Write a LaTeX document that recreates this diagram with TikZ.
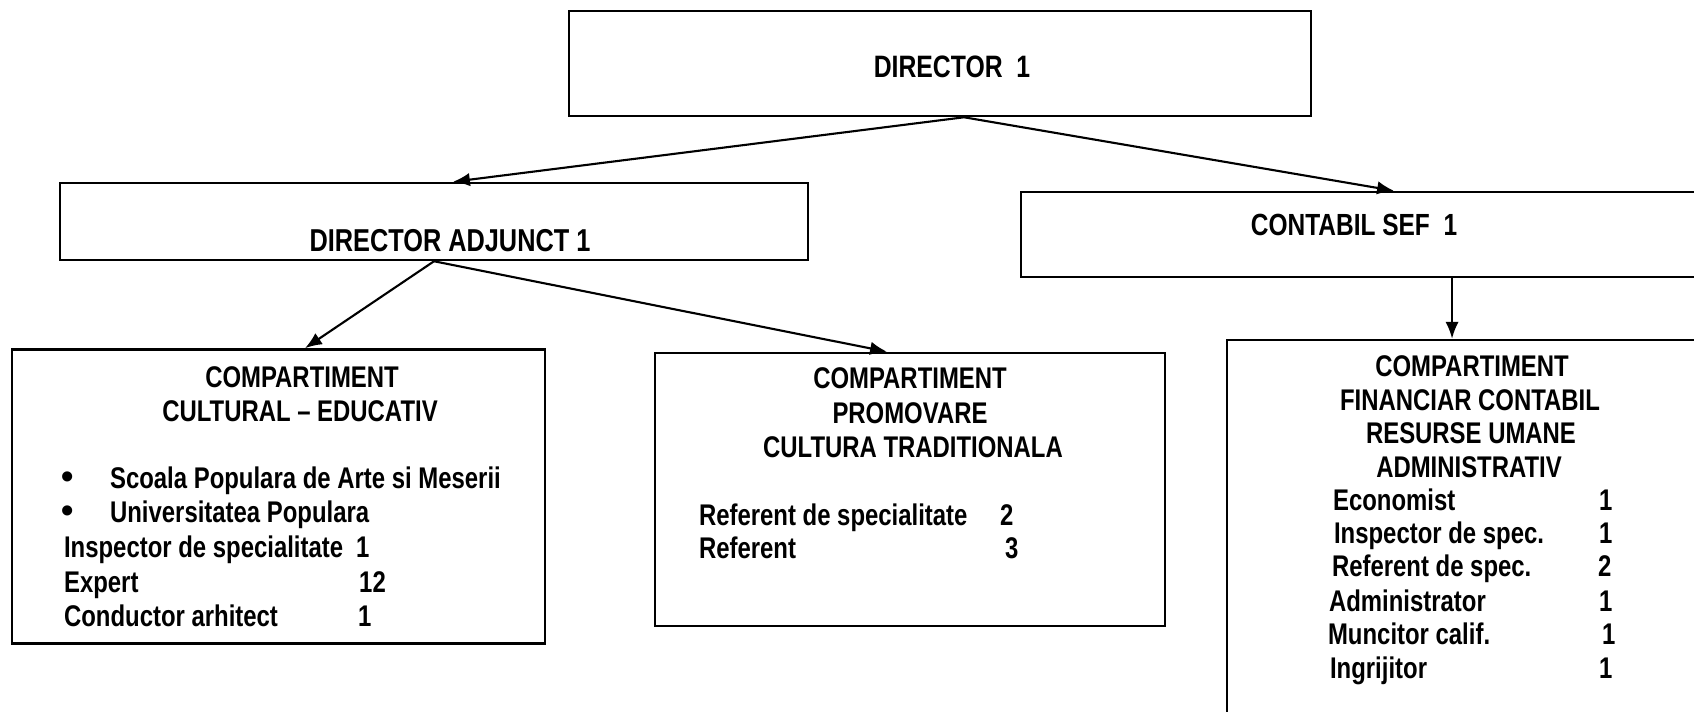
\documentclass[tikz,border=0pt]{standalone}
\usepackage{fontspec}
\setmainfont[FakeStretch=0.8]{Liberation Sans}
\newfontfamily\dotfont{Liberation Sans}
\usetikzlibrary{arrows.meta}
\newcommand{\dotmark}{{\dotfont\fontsize{10}{10}\selectfont\textbullet}}
\tikzset{
  box/.style={draw,line width=0.7pt,inner sep=0},
  chief/.style={anchor=base,inner sep=0,font=\fontsize{8.8}{10}\selectfont\bfseries},
  head/.style={anchor=base,inner sep=0,font=\fontsize{8.5}{10}\selectfont\bfseries},
  lbl/.style={anchor=base west,inner sep=0,font=\fontsize{8.5}{10}\selectfont\bfseries}
}
\begin{document}
\begin{tikzpicture}[x=0.01cm,y=-0.01cm,>={Latex[length=4.8pt,width=3.8pt]},line width=0.6pt]
\clip(0,0)rectangle(1694,711);
\fill[white](0,0)rectangle(1694,711);
%boxes
\node[box,minimum width=7.42cm,minimum height=1.05cm](dir)at(940,63.5){};
\node[box,minimum width=7.48cm,minimum height=0.77cm](adj)at(434,221.5){};
\node[box,minimum width=6.99cm,minimum height=0.85cm](con)at(1370.5,234.5){};
\node[box,minimum width=5.33cm,minimum height=2.94cm](cul)at(278.5,496.5){};
\node[box,minimum width=5.10cm,minimum height=2.73cm](pro)at(910,489.5){};
\node[box,minimum width=4.93cm,minimum height=4.00cm](fin)at(1473.5,540){};
%titles
\node[chief](dirt)at(952,77){DIRECTOR~~1};
\node[chief,font=\fontsize{9}{10}\selectfont\bfseries](adjt)at(450,251){DIRECTOR ADJUNCT 1};
\node[chief,font=\fontsize{8.7}{10}\selectfont\bfseries](cont)at(1354,235){CONTABIL SEF~~1};
%arrows
\coordinate(dirout)at([xshift=0.24cm]dir.south);
\coordinate(adjin)at([xshift=0.19cm]adj.north);
\coordinate(conin)at([xshift=0.235cm]con.north);
\coordinate(adjout)at(adj.south);
\coordinate(culin)at([xshift=0.265cm]cul.north);
\coordinate(proin)at([xshift=-0.23cm]pro.north);
\coordinate(conout)at([xshift=0.815cm]con.south);
\draw[->](dirout)--(adjin);
\draw[->](dirout)--(conin);
\draw[->](adjout)--(culin);
\draw[->](adjout)--(proin);
\draw[->](conout)--(conout|-fin.north);
%cultural - educativ
\node[head](cul1)at(302,387){COMPARTIMENT};
\node[head](cul2)at(300,421){CULTURAL – EDUCATIV};
\node[lbl](cul3)at(60,488){\makebox[0.49cm][l]{\dotmark}Scoala Populara de Arte si Meserii};
\node[lbl](cul4)at(60,522){\makebox[0.49cm][l]{\dotmark}Universitatea Populara};
\node[lbl](cul5)at(63,557){\makebox[2.92cm][l]{Inspector de specialitate}1};
\node[lbl](cul6)at(63,592){\makebox[2.95cm][l]{Expert}12};
\node[lbl](cul7)at(63,626){\makebox[2.94cm][l]{Conductor arhitect}1};
%promovare
\node[head](pro1)at(910,388){COMPARTIMENT};
\node[head](pro2)at(910,423){PROMOVARE};
\node[head](pro3)at(913,457){CULTURA TRADITIONALA};
\node[lbl](pro4)at(698,525){\makebox[3.01cm][l]{Referent de specialitate}2};
\node[lbl](pro5)at(698,558){\makebox[3.06cm][l]{Referent}3};
%financiar
\node[head](fin1)at(1472,376){COMPARTIMENT};
\node[head](fin2)at(1470,410){FINANCIAR CONTABIL};
\node[head](fin3)at(1471,443){RESURSE UMANE};
\node[head](fin4)at(1469,477){ADMINISTRATIV};
\node[lbl](fin5)at(1332,510){\makebox[2.66cm][l]{Economist}1};
\node[lbl](fin6)at(1333,543){\makebox[2.65cm][l]{Inspector de spec.}1};
\node[lbl](fin7)at(1331,576){\makebox[2.66cm][l]{Referent de spec.}2};
\node[lbl](fin8)at(1328,611){\makebox[2.70cm][l]{Administrator}1};
\node[lbl](fin9)at(1327,644){\makebox[2.74cm][l]{Muncitor calif.}1};
\node[lbl](fin10)at(1329,678){\makebox[2.69cm][l]{Ingrijitor}1};
\end{tikzpicture}
\end{document}
